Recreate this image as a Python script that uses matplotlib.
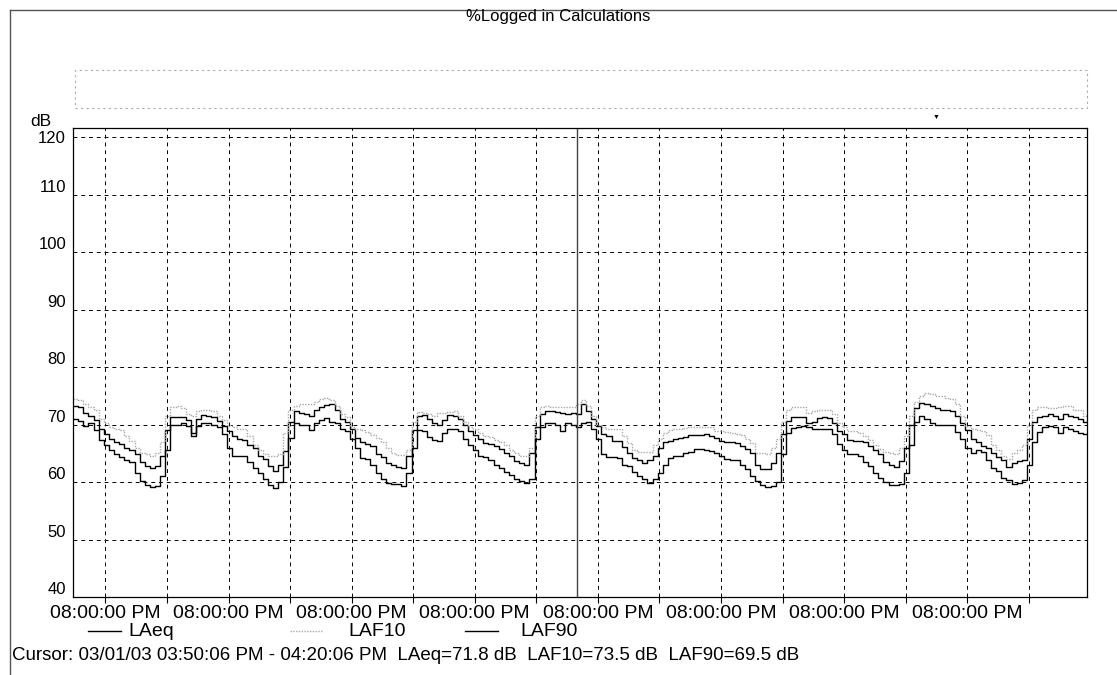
import datetime as dt
import matplotlib.pyplot as plt
import matplotlib.dates as mdates
from matplotlib.lines import Line2D
from matplotlib.patches import Rectangle

plt.rcParams['font.family'] = ['Liberation Sans', 'DejaVu Sans']

W, H = 1117, 675

# hourly logged values, first sample at 02/25/03 13:40
start = dt.datetime(2003, 2, 25, 13, 40)

laeq = [
    73.3, 73.0, 72.0, 71.5, 70.8, 69.3, 68.3, 67.5, 67.0, 66.6, 66.0, 65.5, 64.8, 63.5, 62.8, 62.5, 62.8,
    64.5, 69.0, 71.4, 71.3, 71.4, 70.8, 68.5, 71.0, 71.6, 71.5, 71.3, 70.6, 69.8, 68.8, 68.0, 67.5, 67.3,
    66.5, 66.0, 64.5, 64.0, 62.8, 62.0, 62.9, 65.4, 70.4, 72.3, 72.0, 71.8, 71.5, 72.5, 73.0, 73.4, 73.5,
    72.5, 71.0, 70.5, 69.2, 67.6, 67.0, 66.6, 66.2, 64.8, 64.3, 63.3, 62.9, 62.7, 62.5, 64.5, 69.0,
    71.5, 71.6, 71.0, 70.2, 69.9, 70.8, 71.6, 71.5, 71.0, 70.0, 68.8, 68.2, 67.5, 66.8, 66.7, 66.3, 65.7,
    65.0, 64.5, 63.7, 63.3, 62.9, 65.0, 69.6, 71.8, 72.3, 72.3, 72.2, 72.0, 71.8, 72.1, 71.8, 73.5,
    72.3, 71.0, 69.7, 68.3, 68.0, 67.2, 67.2, 66.1, 65.0, 64.2, 63.9, 63.3, 63.8, 64.5, 66.0, 67.0, 67.2,
    67.5, 67.6, 67.8, 68.2, 68.2, 68.2, 68.3, 68.0, 67.7, 67.2, 67.0, 67.0, 66.8, 66.2, 65.8, 65.1,
    62.9, 62.2, 62.3, 63.4, 65.1, 68.3, 70.6, 71.3, 71.3, 71.3, 70.3, 70.5, 71.1, 71.3, 71.2, 70.3, 68.9,
    68.3, 67.4, 67.1, 67.1, 67.0, 66.3, 65.5, 64.8, 63.5, 63.0, 62.6, 63.7, 66.0, 70.0, 72.8, 73.8,
    73.5, 73.3, 72.8, 72.5, 72.5, 72.3, 71.5, 70.2, 69.0, 67.5, 67.0, 66.3, 66.0, 65.0, 64.3, 63.8, 62.7,
    63.3, 63.6, 63.8, 67.5, 70.5, 71.3, 71.5, 71.8, 71.5, 71.0, 71.8, 71.5, 71.3, 70.9, 70.5, 70.1,
]

laf10 = [
    74.5, 74.3, 73.5, 73.0, 72.5, 71.0, 70.3, 69.5, 69.3, 69.0, 68.0, 67.2, 66.0, 65.0, 64.8, 64.5, 65.0,
    67.0, 71.5, 73.0, 73.2, 72.8, 71.8, 71.5, 72.3, 72.5, 72.5, 72.3, 71.5, 70.8, 70.0, 69.5, 69.3, 69.2,
    68.0, 66.5, 65.5, 64.8, 64.6, 64.5, 64.8, 68.5, 72.5, 73.3, 73.5, 73.5, 73.5, 74.0, 74.5, 74.6, 74.3,
    73.2, 71.8, 71.3, 69.6, 69.3, 69.0, 68.7, 68.2, 67.6, 67.0, 66.0, 65.0, 64.7, 64.7, 65.5, 70.5,
    72.2, 72.0, 71.8, 71.5, 72.0, 72.0, 72.2, 72.3, 71.5, 70.5, 69.5, 69.2, 68.5, 68.0, 67.8, 67.3, 67.0,
    66.5, 65.5, 65.0, 64.6, 64.5, 66.0, 71.5, 73.0, 73.2, 73.1, 73.0, 73.0, 73.0, 73.0, 73.5, 74.3,
    73.3, 71.5, 70.0, 69.5, 69.3, 69.3, 69.3, 68.0, 66.8, 65.5, 65.2, 65.2, 65.2, 66.5, 67.5, 68.6, 69.0,
    69.3, 69.3, 69.4, 69.5, 69.6, 69.6, 69.6, 69.5, 68.9, 68.8, 68.7, 68.6, 68.4, 68.2, 67.5, 66.8,
    65.0, 65.0, 64.9, 66.0, 67.5, 70.5, 72.5, 73.0, 73.0, 73.0, 72.0, 72.3, 72.6, 72.6, 72.6, 71.8, 70.2,
    69.6, 68.8, 68.8, 68.5, 68.0, 67.3, 66.5, 65.8, 65.2, 65.0, 64.9, 66.0, 68.0, 71.5, 74.0, 75.0,
    75.5, 75.3, 75.0, 75.0, 74.6, 74.5, 73.5, 71.5, 69.8, 69.3, 69.0, 68.8, 68.2, 66.5, 65.5, 64.5, 64.0,
    65.0, 65.5, 66.5, 70.0, 72.5, 73.1, 73.1, 72.8, 72.8, 73.0, 73.3, 73.3, 72.5, 72.5, 71.5, 71.3,
]

laf90 = [
    71.0, 70.7, 69.8, 70.2, 69.0, 67.3, 66.5, 65.6, 64.8, 64.3, 63.8, 63.5, 61.5, 60.2, 59.5, 59.2, 59.3,
    61.0, 65.5, 70.0, 70.0, 70.2, 69.8, 68.0, 69.8, 70.2, 70.2, 70.0, 69.5, 68.3, 66.0, 64.6, 64.5, 64.5,
    63.5, 62.5, 61.5, 60.5, 59.5, 59.0, 60.0, 62.6, 67.6, 70.2, 70.0, 70.0, 69.0, 70.3, 70.8, 71.2, 70.5,
    70.2, 69.2, 68.8, 67.5, 66.0, 64.2, 64.0, 63.0, 61.5, 60.5, 59.8, 59.7, 59.6, 59.3, 61.5, 66.0,
    69.0, 68.8, 67.8, 67.3, 67.1, 68.5, 69.3, 69.3, 68.8, 67.5, 66.5, 65.5, 64.5, 64.3, 63.8, 63.0, 62.5,
    61.7, 61.3, 60.5, 60.2, 59.8, 60.5, 67.5, 69.5, 70.2, 70.2, 70.0, 68.8, 70.2, 70.0, 69.5, 70.2,
    70.5, 69.2, 67.5, 64.8, 64.3, 64.3, 64.2, 63.0, 62.8, 61.7, 61.0, 60.6, 59.8, 60.5, 61.5, 63.0, 64.2,
    64.5, 64.6, 65.0, 65.3, 65.8, 65.8, 65.6, 65.4, 65.0, 64.6, 64.0, 63.8, 63.8, 63.0, 62.3, 61.0,
    60.2, 59.5, 59.2, 59.3, 60.0, 64.9, 68.5, 69.4, 69.6, 69.7, 69.5, 69.3, 69.3, 69.3, 69.2, 68.3, 66.6,
    65.5, 64.9, 64.9, 64.5, 63.5, 62.8, 61.5, 60.7, 60.0, 59.5, 59.4, 59.6, 61.5, 66.5, 70.5, 71.5,
    71.0, 70.3, 70.0, 70.0, 69.9, 69.9, 68.7, 67.5, 66.0, 65.1, 65.5, 65.2, 63.8, 62.5, 62.0, 60.7, 60.3,
    59.7, 59.8, 60.4, 63.0, 67.0, 68.7, 69.6, 69.7, 69.5, 68.5, 69.6, 69.2, 68.8, 68.5, 68.3, 67.5,
]

y_ticks = [40, 50, 60, 70, 80, 90, 100, 110, 120]
series_names = ['LAeq', 'LAF10', 'LAF90']
cursor_time = dt.datetime(2003, 3, 1, 15, 50, 6)
cursor_text = ('Cursor: 03/01/03 03:50:06 PM - 04:20:06 PM  '
               'LAeq=71.8 dB  LAF10=73.5 dB  LAF90=69.5 dB')
title = '%Logged in Calculations'


def fx(px):
    return px / W


def fy(py):
    return 1 - py / H


def main():
    times = [start + dt.timedelta(hours=i) for i in range(len(laeq))]

    fig = plt.figure(figsize=(W / 100, H / 100), dpi=100)
    ax = fig.add_axes([fx(73), fy(597), fx(1087) - fx(73), fy(128) - fy(597)])

    ax.step(times, laeq, where='post', color='black', lw=1.0)
    ax.step(times, laf10, where='post', color='#a8a8a8', lw=1.0, ls=(0, (1, 1)))
    ax.step(times, laf90, where='post', color='black', lw=1.0)
    ax.axvline(cursor_time, color='#444444', lw=1.0)

    ax.set_xlim(start, start + dt.timedelta(hours=197.7))
    ax.set_ylim(40, 121.6)
    ax.set_yticks(y_ticks)

    ax.xaxis.set_major_locator(mdates.HourLocator(byhour=[20]))
    ax.xaxis.set_minor_locator(mdates.HourLocator(byhour=[8]))
    ax.xaxis.set_major_formatter(mdates.DateFormatter('%I:%M:%S %p'))
    ax.tick_params(axis='x', which='both', length=4, width=0.8, pad=2, labelsize=14)
    ax.tick_params(axis='y', length=0, pad=5, labelsize=12)
    # the instrument software draws the y labels just above their gridline
    for tick, v in zip(ax.yaxis.get_major_ticks(), y_ticks):
        if v != 120:
            tick.label1.set_verticalalignment('bottom')

    grid_style = dict(color='black', lw=0.7, ls=(0, (4, 4)))
    ax.grid(True, which='major', **grid_style)
    ax.grid(True, which='minor', axis='x', **grid_style)
    for s in ax.spines.values():
        s.set_linewidth(0.9)

    # header, empty box and frame
    fig.text(fx(558), fy(17), title, ha='center', va='center', fontsize=12)
    fig.text(fx(30), fy(122), 'dB', ha='left', va='center', fontsize=12.5)
    fig.text(fx(936), fy(117), '\u25bc', ha='center', va='center', fontsize=5)
    fig.add_artist(Rectangle((fx(75), fy(108)), fx(1087) - fx(75), fy(70) - fy(108),
                             transform=fig.transFigure, fill=False, ec='#aaaaaa',
                             lw=0.8, ls=(0, (2, 3))))
    fig.add_artist(Line2D([fx(10), fx(10)], [fy(10), fy(675)], color='#555555', lw=1.0))
    fig.add_artist(Line2D([fx(10), fx(1117)], [fy(10), fy(10)], color='#555555', lw=1.0))

    # legend row
    legend_pos = [(88, 128), (290, 348), (465, 520)]
    styles = [dict(color='black', lw=1.0), dict(color='#a8a8a8', lw=1.0, ls=(0, (1, 1))),
              dict(color='black', lw=1.0)]
    for name, (lx, tx), st in zip(series_names, legend_pos, styles):
        fig.add_artist(Line2D([fx(lx), fx(lx + 33)], [fy(631), fy(631)], **st))
        fig.text(fx(tx), fy(631), name, ha='left', va='center', fontsize=14)

    fig.text(fx(12), fy(655), cursor_text, ha='left', va='center', fontsize=13.5)

    fig.savefig('out.png', dpi=100)


if __name__ == '__main__':
    main()
